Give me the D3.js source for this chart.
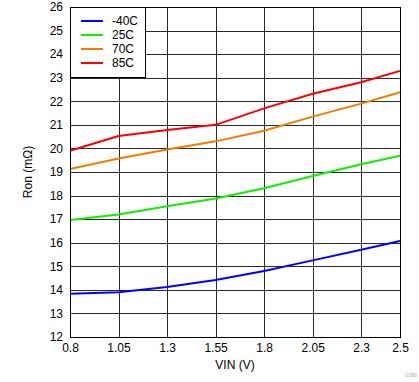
<!DOCTYPE html>
<html><head><meta charset="utf-8">
<script src="https://cdn.jsdelivr.net/npm/d3@7/dist/d3.min.js"></script>
<style>
html,body{margin:0;padding:0;background:#fff;}
svg{display:block;font-family:"Liberation Sans",Arial,sans-serif;}
</style></head>
<body>
<svg id="chart" width="419" height="382"></svg>
<script>
const vin = [0.8, 1.05, 1.3, 1.55, 1.8, 2.05, 2.3, 2.5];
const xTicks = [0.8, 1.05, 1.3, 1.55, 1.8, 2.05, 2.3, 2.5];
const yTicks = [12,13,14,15,16,17,18,19,20,21,22,23,24,25,26];
const seriesNames = ["-40C", "25C", "70C", "85C"];
const seriesColors = ["#0000ff", "#11ee00", "#ee7d00", "#ff0000"];
const ronM40 = [13.83, 13.9, 14.12, 14.42, 14.8, 15.25, 15.7, 16.07];
const ron25  = [16.96, 17.2, 17.55, 17.88, 18.31, 18.83, 19.33, 19.69];
const ron70  = [19.13, 19.57, 19.95, 20.3, 20.75, 21.35, 21.9, 22.38];
const ron85  = [19.9, 20.53, 20.78, 21.0, 21.7, 22.32, 22.81, 23.29];
const seriesValues = [ronM40, ron25, ron70, ron85];

const svg = d3.select("#chart");
const L = 70, R = 400, T = 7, B = 337;
const x = d3.scaleLinear().domain([0.8, 2.5]).range([L, R]);
const y = d3.scaleLinear().domain([12, 26]).range([B, T]);

// grid
const grid = svg.append("g");
grid.selectAll("line.v").data(xTicks.slice(1, -1)).enter().append("line")
  .attr("x1", d => Math.round(x(d)) + 0.5).attr("x2", d => Math.round(x(d)) + 0.5)
  .attr("y1", T).attr("y2", B).attr("stroke", "#2a2a2a").attr("stroke-width", 1);
grid.selectAll("line.h").data(yTicks.slice(1, -1)).enter().append("line")
  .attr("y1", d => Math.round(y(d)) + 0.5).attr("y2", d => Math.round(y(d)) + 0.5)
  .attr("x1", L).attr("x2", R).attr("stroke", "#2a2a2a").attr("stroke-width", 1);

// axes (labels only)
const xAxis = d3.axisBottom(x).tickValues(xTicks).tickSize(0).tickPadding(6)
  .tickFormat(d => String(d));
const gx = svg.append("g").attr("transform", `translate(0,${B})`).call(xAxis);
gx.select(".domain").remove();
gx.selectAll("text").attr("font-size", 12).attr("fill", "#000")
  .attr("font-family", "Liberation Sans, Arial, sans-serif");

const yAxis = d3.axisLeft(y).tickValues(yTicks).tickSize(0).tickPadding(7)
  .tickFormat(d3.format("d"));
const gy = svg.append("g").attr("transform", `translate(${L},0)`).call(yAxis);
gy.select(".domain").remove();
gy.selectAll("text").attr("font-size", 12).attr("fill", "#000")
  .attr("font-family", "Liberation Sans, Arial, sans-serif");

// lines
const line = d3.line().x((d, i) => x(vin[i])).y(d => y(d));
svg.append("g").selectAll("path").data(seriesValues).enter().append("path")
  .attr("d", d => line(d)).attr("fill", "none")
  .attr("stroke", (d, i) => seriesColors[i]).attr("stroke-width", 2);

// border
svg.append("rect").attr("x", L + 0.5).attr("y", T + 0.5)
  .attr("width", R - L - 1 + 1).attr("height", B - T)
  .attr("fill", "none").attr("stroke", "#000").attr("stroke-width", 1);

// legend
const lg = svg.append("g");
lg.append("rect").attr("x", L + 0.5).attr("y", T + 0.5).attr("width", 75).attr("height", 70)
  .attr("fill", "#fff").attr("stroke", "#000").attr("stroke-width", 1);
seriesNames.forEach((n, i) => {
  const yy = 21 + i * 14;
  lg.append("line").attr("x1", 81).attr("x2", 103).attr("y1", yy).attr("y2", yy)
    .attr("stroke", seriesColors[i]).attr("stroke-width", 2);
  lg.append("text").attr("x", 112).attr("y", yy).attr("dy", "0.35em")
    .attr("font-size", 12).attr("fill", "#000").text(n);
});

// axis titles
svg.append("text").attr("x", (L + R) / 2).attr("y", 365).attr("dy", "0.35em")
  .attr("text-anchor", "middle").attr("font-size", 12).attr("fill", "#000").text("VIN (V)");
svg.append("text").attr("transform", `translate(28,${(T + B) / 2}) rotate(-90)`)
  .attr("dy", "0.35em").attr("text-anchor", "middle").attr("font-size", 12)
  .attr("fill", "#000").text("Ron (mΩ)");
svg.append("text").attr("x", 417).attr("y", 377).attr("text-anchor", "end")
  .attr("font-size", 5).attr("fill", "#b0b0b0").text("G080");
</script>
</body></html>
